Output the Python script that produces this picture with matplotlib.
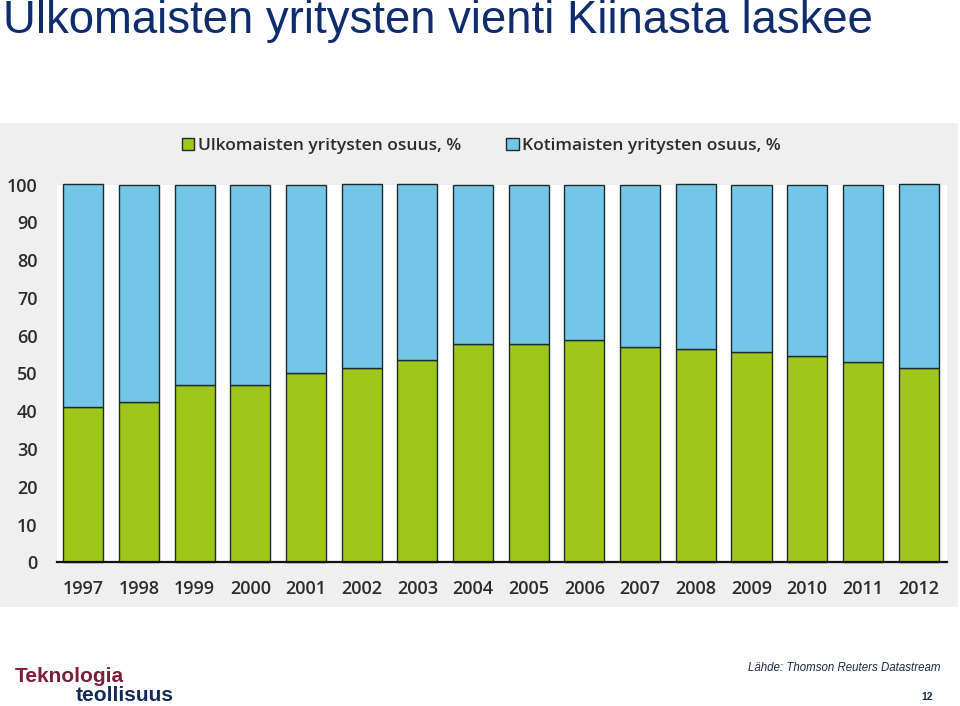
import matplotlib
matplotlib.use("Agg")
import matplotlib.pyplot as plt
from matplotlib.patches import Rectangle, Patch

years = ["1997", "1998", "1999", "2000", "2001", "2002", "2003", "2004",
         "2005", "2006", "2007", "2008", "2009", "2010", "2011", "2012"]
foreign_share = [41.0, 42.4, 46.9, 46.9, 50.0, 51.5, 53.5, 57.7,
                 57.7, 58.8, 56.9, 56.5, 55.7, 54.6, 52.9, 51.5]
domestic_share = [100 - v for v in foreign_share]
y_ticks = [0, 10, 20, 30, 40, 50, 60, 70, 80, 90, 100]

title = "Ulkomaisten yritysten vienti Kiinasta laskee"
label_foreign = "Ulkomaisten yritysten osuus, %"
label_domestic = "Kotimaisten yritysten osuus, %"
source = "Lähde: Thomson Reuters Datastream"

GREEN = "#9fc71b"
BLUE = "#74c6e9"
EDGE = "#1e2b2b"
TXT = "#2b2b2b"

W, H = 960, 706
fig = plt.figure(figsize=(W / 100, H / 100), dpi=100)
fig.patch.set_facecolor("white")

def px(x, y):
    return x / W, 1 - y / H

# scanned chart panel background
x0, y0 = px(0, 607)
x1, y1 = px(958, 123)
fig.patches.append(Rectangle((x0, y0), x1 - x0, y1 - y0, transform=fig.transFigure,
                             facecolor="#efefef", edgecolor="none", zorder=-10))

left, bottom = px(57, 562.3)
_, top = px(0, 184.5)
right, _ = px(947, 0)
ax = fig.add_axes([left, bottom, right - left, top - bottom])
ax.set_zorder(2)
ax.set_facecolor("white")

xs = list(range(len(years)))
ax.bar(xs, foreign_share, width=0.72, color=GREEN, edgecolor=EDGE, linewidth=1.0,
       clip_on=False, zorder=2)
ax.bar(xs, domestic_share, bottom=foreign_share, width=0.72, color=BLUE,
       edgecolor=EDGE, linewidth=1.0, clip_on=False, zorder=2)

ax.set_xlim(-0.47, 15.51)
ax.set_ylim(0, 100)
ax.set_xticks(xs)
ax.set_xticklabels(years)
ax.set_yticks(y_ticks)
for s in ["top", "right", "left"]:
    ax.spines[s].set_visible(False)
ax.spines["bottom"].set_color("#111111")
ax.spines["bottom"].set_linewidth(1.6)
ax.spines["bottom"].set_zorder(3)
ax.tick_params(axis="both", length=0, colors=TXT)
ax.tick_params(axis="x", pad=13)
ax.tick_params(axis="y", pad=14)
for lab in ax.get_xticklabels() + ax.get_yticklabels():
    lab.set_fontfamily("Open Sans")
    lab.set_fontsize(13)
    lab.set_fontweight("semibold")
    lab.set_color(TXT)

handles = [Patch(facecolor=GREEN, edgecolor=EDGE, linewidth=1.0, label=label_foreign),
           Patch(facecolor=BLUE, edgecolor=EDGE, linewidth=1.0, label=label_domestic)]
leg = fig.legend(handles=handles, loc="center left", bbox_to_anchor=px(182, 146),
                 ncol=2, frameon=False, borderpad=0, borderaxespad=0,
                 handlelength=0.7, handleheight=0.7, handletextpad=0.22,
                 columnspacing=2.6,
                 prop={"family": "Open Sans", "size": 12.5, "weight": "semibold"})
for t in leg.get_texts():
    t.set_color(TXT)

fig.text(*px(3, 33), title, fontsize=32.8, color="#0f2c6c",
         fontfamily="Liberation Sans", ha="left", va="baseline")

fig.text(*px(15, 682), "Teknologia", fontsize=15, fontweight="bold", color="#7b1e36",
         fontfamily="Liberation Sans", ha="left", va="baseline")
fig.text(*px(76, 701), "teollisuus", fontsize=15, fontweight="bold", color="#132a5e",
         fontfamily="Liberation Sans", ha="left", va="baseline")
fig.text(*px(940, 671), source, fontsize=8.3, style="italic", color="#1f2a44",
         fontfamily="Liberation Sans", ha="right", va="baseline")
fig.text(*px(933, 700), "12", fontsize=7.5, fontweight="bold", color="#1f2a44",
         fontfamily="Liberation Sans", ha="right", va="baseline")

fig.savefig("out.png", dpi=100)
